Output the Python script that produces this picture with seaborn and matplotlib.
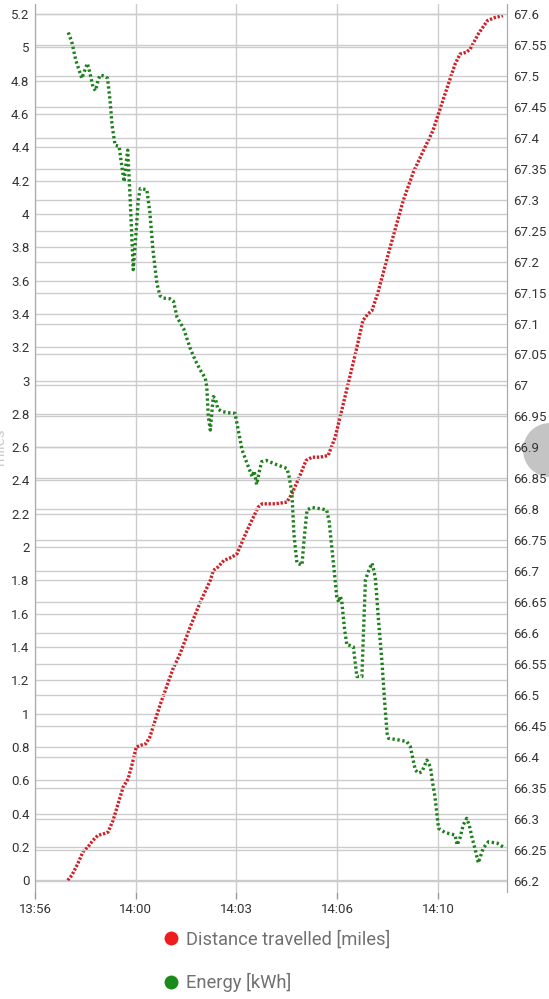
import matplotlib
matplotlib.use("Agg")
import matplotlib.pyplot as plt
import matplotlib.dates as mdates
import pandas as pd
import seaborn as sns
from matplotlib.lines import Line2D
from matplotlib.patches import Circle

# ---------- data ----------
dist_time = [
    "13:57:45", "13:57:53", "13:58:05", "13:58:15", "13:58:25", "13:58:35", "13:58:45",
    "13:58:57", "13:59:05", "13:59:15", "13:59:25", "13:59:35", "13:59:45", "13:59:53",
    "14:00:01", "14:00:09", "14:00:20", "14:00:28", "14:00:48", "14:01:14", "14:01:28",
    "14:01:48", "14:02:08", "14:02:28", "14:02:34", "14:02:43", "14:02:55", "14:03:11",
    "14:03:21", "14:03:41", "14:04:03", "14:04:11", "14:04:37", "14:05:00", "14:05:10",
    "14:05:26", "14:05:38", "14:05:50", "14:06:06", "14:06:22", "14:06:36", "14:06:56",
    "14:07:16", "14:07:31", "14:07:41", "14:07:49", "14:08:01", "14:08:25", "14:08:51",
    "14:09:11", "14:09:31", "14:09:50", "14:10:14", "14:10:34", "14:10:44", "14:10:56",
    "14:11:04", "14:11:20", "14:11:38", "14:11:54", "14:12:09",
]
dist_miles = [
    0.00, 0.03, 0.10, 0.17, 0.20, 0.24, 0.27,
    0.28, 0.29, 0.36, 0.46, 0.56, 0.61, 0.70,
    0.80, 0.81, 0.82, 0.86, 1.05, 1.27, 1.36,
    1.52, 1.67, 1.80, 1.86, 1.88, 1.92, 1.94,
    1.96, 2.10, 2.24, 2.26, 2.26, 2.27, 2.32,
    2.43, 2.52, 2.54, 2.54, 2.55, 2.66, 2.91,
    3.16, 3.36, 3.40, 3.42, 3.53, 3.80, 4.08,
    4.25, 4.38, 4.50, 4.72, 4.90, 4.96, 4.97,
    4.99, 5.08, 5.16, 5.18, 5.19,
]

energy_time = [
    "13:57:46", "13:57:53", "13:58:01", "13:58:13", "13:58:17", "13:58:24", "13:58:29",
    "13:58:35", "13:58:40", "13:58:45", "13:58:49", "13:58:57", "13:59:04", "13:59:09",
    "13:59:13", "13:59:19", "13:59:27", "13:59:33", "13:59:37", "13:59:41", "13:59:44",
    "13:59:49", "13:59:55", "14:00:01", "14:00:05", "14:00:09", "14:00:22", "14:00:28",
    "14:00:34", "14:00:42", "14:00:48", "14:00:55", "14:01:08", "14:01:15", "14:01:22",
    "14:01:35", "14:01:48", "14:01:58", "14:02:08", "14:02:18", "14:02:21", "14:02:24",
    "14:02:28", "14:02:32", "14:02:34", "14:02:38", "14:02:43", "14:02:51", "14:03:03",
    "14:03:17", "14:03:23", "14:03:31", "14:03:41", "14:03:51", "14:03:55", "14:04:00",
    "14:04:05", "14:04:10", "14:04:19", "14:04:40", "14:05:00", "14:05:04", "14:05:10",
    "14:05:14", "14:05:20", "14:05:30", "14:05:34", "14:05:40", "14:05:50", "14:06:06",
    "14:06:19", "14:06:24", "14:06:29", "14:06:34", "14:06:39", "14:06:43", "14:06:46",
    "14:06:49", "14:06:54", "14:06:59", "14:07:06", "14:07:12", "14:07:16", "14:07:19",
    "14:07:29", "14:07:32", "14:07:36", "14:07:42", "14:07:49", "14:07:53", "14:07:56",
    "14:08:02", "14:08:09", "14:08:14", "14:08:19", "14:08:22", "14:08:39", "14:08:58",
    "14:09:05", "14:09:15", "14:09:21", "14:09:28", "14:09:38", "14:09:45", "14:09:49",
    "14:09:54", "14:10:01", "14:10:14", "14:10:34", "14:10:38", "14:10:44", "14:10:50",
    "14:10:57", "14:11:02", "14:11:07", "14:11:14", "14:11:20", "14:11:30", "14:11:40",
    "14:11:57", "14:12:13",
]
energy_kwh = [
    67.570, 67.555, 67.525, 67.496, 67.505, 67.520, 67.505,
    67.482, 67.476, 67.492, 67.501, 67.500, 67.496, 67.460,
    67.420, 67.388, 67.386, 67.350, 67.329, 67.360, 67.380,
    67.300, 67.187, 67.250, 67.300, 67.318, 67.316, 67.280,
    67.220, 67.165, 67.145, 67.141, 67.140, 67.136, 67.110,
    67.092, 67.060, 67.041, 67.025, 67.012, 66.998, 66.950,
    66.928, 66.965, 66.982, 66.979, 66.962, 66.958, 66.956,
    66.955, 66.930, 66.896, 66.874, 66.853, 66.862, 66.840,
    66.860, 66.877, 66.879, 66.872, 66.866, 66.855, 66.826,
    66.760, 66.713, 66.710, 66.750, 66.799, 66.803, 66.801,
    66.799, 66.780, 66.740, 66.700, 66.659, 66.650, 66.660,
    66.651, 66.610, 66.581, 66.580, 66.578, 66.550, 66.530,
    66.530, 66.600, 66.686, 66.700, 66.713, 66.700, 66.686,
    66.620, 66.551, 66.490, 66.438, 66.430, 66.428, 66.425,
    66.417, 66.379, 66.374, 66.376, 66.395, 66.384, 66.360,
    66.336, 66.285, 66.278, 66.274, 66.258, 66.270, 66.290,
    66.301, 66.290, 66.272, 66.250, 66.229, 66.253, 66.263,
    66.261, 66.253,
]

x_ticks = ["13:56:40", "14:00:00", "14:03:20", "14:06:40", "14:10:00"]
x_range = ["13:56:40", "14:12:17"]
left_ticks = [round(0.2 * i, 1) for i in range(27)]
right_ticks = [round(66.2 + 0.05 * i, 2) for i in range(29)]
legend_labels = ["Distance travelled [miles]", "Energy [kWh]"]

DAY = "2020-01-01 "
dist_df = pd.DataFrame({"time": pd.to_datetime([DAY + t for t in dist_time]), "miles": dist_miles})
energy_df = pd.DataFrame({"time": pd.to_datetime([DAY + t for t in energy_time]), "kwh": energy_kwh})

# ---------- style ----------
sns.set_style("white")
plt.rcParams["font.family"] = ["Roboto", "DejaVu Sans"]

RED = "#cf2027"
GREEN = "#1b7f1b"
GRID = "#cccccc"

fig = plt.figure(figsize=(5.49, 9.99), dpi=100)

# grey overlay button at the right edge of the screenshot (behind the tick labels)
fig.patches.append(Circle((5.50, 5.49), 0.27, transform=fig.dpi_scale_trans,
                          facecolor="#c4c4c4", edgecolor="none", zorder=-1))

ax = fig.add_axes([35 / 549, 107 / 999, 472 / 549, 888 / 999])
ax2 = ax.twinx()

sns.lineplot(data=dist_df, x="time", y="miles", ax=ax, color=RED,
             linewidth=2.4, dashes=False, estimator=None)
sns.lineplot(data=energy_df, x="time", y="kwh", ax=ax2, color=GREEN,
             linewidth=2.4, dashes=False, estimator=None)
ax.lines[0].set_dashes((0.7, 0.5))
ax2.lines[0].set_dashes((0.7, 0.8))

ax.set_xlim(pd.to_datetime([DAY + t for t in x_range]))
ax.set_xticks(pd.to_datetime([DAY + t for t in x_ticks]))
ax.xaxis.set_major_formatter(mdates.DateFormatter("%H:%M"))

ax.set_ylim(-0.07, 5.26)
ax.set_yticks(left_ticks)
ax.set_yticklabels([f"{v:g}" for v in left_ticks])
ax2.set_ylim(66.182, 67.616)
ax2.set_yticks(right_ticks)
ax2.set_yticklabels([f"{v:g}" for v in right_ticks])

ax.set_xlabel("")
ax.set_ylabel("")
ax2.set_ylabel("")

ax.grid(True, color=GRID, linewidth=1.0)
ax2.grid(True, axis="y", color=GRID, linewidth=1.0)
ax2.grid(False, axis="x")

ax.tick_params(axis="y", length=0, pad=4, labelsize=9.5, labelcolor="#333333")
ax2.tick_params(axis="y", length=0, pad=4.5, labelsize=9.5, labelcolor="#333333")
ax.tick_params(axis="x", length=5, width=1, color="#999999", pad=3,
               labelsize=9.5, labelcolor="#333333", bottom=True)

for a in (ax, ax2):
    for s in a.spines.values():
        s.set_visible(False)
    a.spines["left"].set_visible(True)
    a.spines["right"].set_visible(True)
    a.spines["left"].set_color("#aaaaaa")
    a.spines["right"].set_color("#aaaaaa")

# faint axis title, clipped by the left edge as in the screenshot
fig.text(0.0, 0.553, "miles", rotation=90, ha="center", va="center",
         fontsize=11, color="#cccccc")

handles = [
    Line2D([], [], marker="o", linestyle="none", markersize=10,
           markerfacecolor="#ee1c1c", markeredgecolor="none"),
    Line2D([], [], marker="o", linestyle="none", markersize=10,
           markerfacecolor="#1a8a1a", markeredgecolor="none"),
]
fig.legend(handles, legend_labels,
           loc="upper left", bbox_to_anchor=(164 / 549, 1 - 930 / 999),
           frameon=False, fontsize=13.2, labelcolor="#707070",
           labelspacing=1.35, handlelength=0.8, handletextpad=0.42,
           borderaxespad=0, borderpad=0)

fig.savefig("out.png", dpi=100, facecolor="white")
